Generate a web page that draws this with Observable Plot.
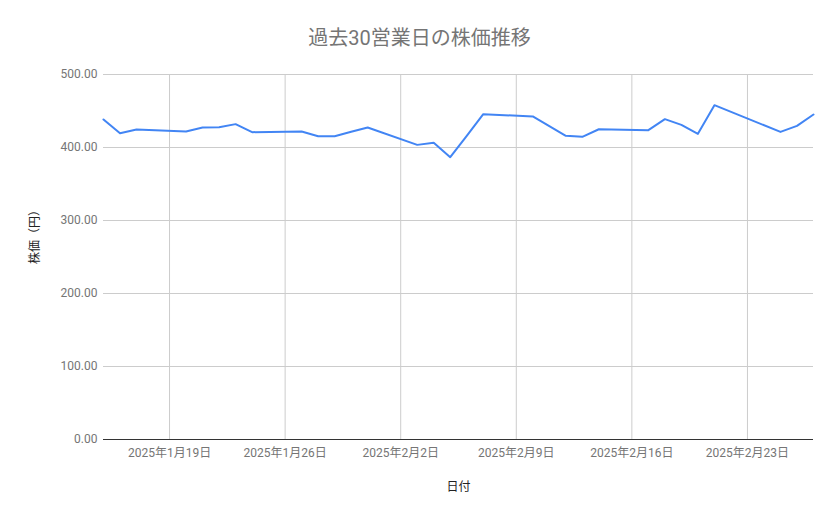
<!DOCTYPE html>
<html>
<head>
<meta charset="utf-8">
<script src="https://cdn.jsdelivr.net/npm/d3@7"></script>
<script src="https://cdn.jsdelivr.net/npm/@observablehq/plot@0.6"></script>
<style>
  body { margin: 0; background: #fff; font-family: Roboto, "Noto Sans CJK JP", sans-serif; }
  #title { width: 839px; height: 60px; box-sizing: border-box; padding-top: 26px; text-align: center;
           font-size: 20px; color: #757575; line-height: 24px; }
</style>
</head>
<body>
<div id="title">過去30営業日の株価推移</div>
<div id="chart"></div>
<script>
const dates = [
  "2025-01-15","2025-01-16","2025-01-17","2025-01-20","2025-01-21","2025-01-22","2025-01-23","2025-01-24",
  "2025-01-27","2025-01-28","2025-01-29","2025-01-30","2025-01-31",
  "2025-02-03","2025-02-04","2025-02-05","2025-02-06","2025-02-07",
  "2025-02-10","2025-02-12","2025-02-13","2025-02-14",
  "2025-02-17","2025-02-18","2025-02-19","2025-02-20","2025-02-21",
  "2025-02-25","2025-02-26","2025-02-27"
];
const prices = [
  438.4, 419.6, 424.7, 421.9, 427.4, 427.6, 432.0, 421.0,
  421.9, 415.5, 415.5, 421.5, 427.4,
  403.6, 406.4, 386.7, 416.0, 445.6,
  442.5, 416.0, 414.6, 425.0,
  423.7, 438.8, 431.0, 418.7, 458.0,
  421.4, 429.7, 445.2
];
const xDomain = ["2025-01-15", "2025-02-27"];
const xTicks = ["2025-01-19","2025-01-26","2025-02-02","2025-02-09","2025-02-16","2025-02-23"];
const yTicks = [0, 100, 200, 300, 400, 500];
const xTitle = "日付";
const yTitle = "株価（円）";

const parse = s => new Date(s + "T00:00:00Z");
const data = dates.map((d, i) => ({date: parse(d), price: prices[i]}));
const fmtDate = d => `${d.getUTCFullYear()}年${d.getUTCMonth() + 1}月${d.getUTCDate()}日`;

const chart = Plot.plot({
  width: 839,
  height: 459,
  marginTop: 14,
  marginBottom: 80,
  marginLeft: 103,
  marginRight: 26,
  style: {fontFamily: 'Roboto, "Noto Sans CJK JP", sans-serif', fontSize: "12px", color: "#757575", background: "#fff"},
  x: {type: "utc", domain: xDomain.map(parse)},
  y: {domain: [0, 500]},
  marks: [
    Plot.gridY(yTicks, {stroke: "#cccccc", strokeOpacity: 1}),
    Plot.gridX(xTicks.map(parse), {stroke: "#cccccc", strokeOpacity: 1}),
    Plot.axisY(yTicks, {tickSize: 0, tickPadding: 6, tickFormat: d3.format(".2f"), label: null, fill: "#757575"}),
    Plot.axisX(xTicks.map(parse), {tickSize: 0, tickPadding: 9, tickFormat: fmtDate, label: null, fill: "#757575"}),
    Plot.ruleY([0], {stroke: "#333333", strokeWidth: 1}),
    Plot.lineY(data, {x: "date", y: "price", stroke: "#4285F4", strokeWidth: 2}),
    Plot.text([yTitle], {frameAnchor: "left", rotate: -90, dx: -68, dy: 7, fill: "#222222", fontSize: 12}),
    Plot.text([xTitle], {frameAnchor: "bottom", dy: 51, fill: "#222222", fontSize: 12})
  ]
});
document.getElementById("chart").appendChild(chart);
</script>
</body>
</html>
